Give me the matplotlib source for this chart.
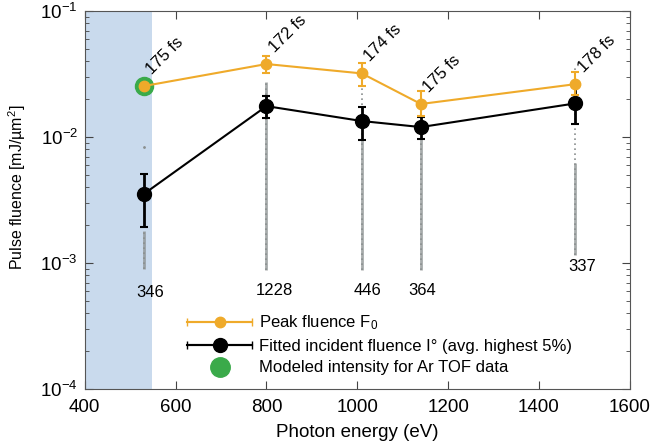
import numpy as np
from matplotlib import pyplot as plt
from matplotlib.container import ErrorbarContainer
from matplotlib.legend_handler import HandlerErrorbar

plt.rcParams['font.family'] = ['Liberation Sans', 'DejaVu Sans']
plt.rcParams['mathtext.fontset'] = 'custom'
plt.rcParams['mathtext.rm'] = 'Liberation Sans'
plt.rcParams['mathtext.it'] = 'Liberation Sans:italic'
plt.rcParams['mathtext.bf'] = 'Liberation Sans:bold'

# photon energies (eV)
energy    = [530, 800, 1010, 1140, 1480]

# peak fluence F0 with asymmetric error bars
peak      = [0.0254, 0.038, 0.032, 0.0183, 0.0263]
peak_lo   = [0.0254, 0.032, 0.0254, 0.0147, 0.0215]
peak_hi   = [0.0254, 0.044, 0.039, 0.0232, 0.033]

# fitted incident fluence
fit       = [0.00353, 0.0176, 0.0134, 0.0120, 0.0185]
fit_lo    = [0.00194, 0.0141, 0.0095, 0.0097, 0.0127]
fit_hi    = [0.0051, 0.0211, 0.0174, 0.0144, 0.025]

# modelled intensity for Ar TOF
tof_e     = [530]
tof_val   = [0.0254]

# single-shot strips (extent)
strip_sparse_top = [0.0018, 0.0274, 0.027, 0.0098, 0.037]
strip_dense_top  = [0.0018, 0.0274, 0.0095, 0.0098, 0.0062]
strip_bottom     = [0.00090, 0.00088, 0.00088, 0.00088, 0.00116]
outlier_e   = [530]
outlier_val = [0.0083]

pulse_len = ['175 fs', '172 fs', '174 fs', '175 fs', '178 fs']
shots     = ['346', '1228', '446', '364', '337']
shots_x   = [543, 817, 1023, 1142, 1495]
shots_y   = [5.8e-4, 6.1e-4, 6.1e-4, 6.1e-4, 9.3e-4]

orange = '#EFAA2A'
green  = '#3AAA4A'
gray   = '#8A8F8F'
shade  = '#C9DAED'


fig = plt.figure(figsize=(6.52, 4.44), dpi=100)
ax  = fig.add_axes([0.130, 0.124, 0.836, 0.851])

ax.axvspan(400, 547, color=shade, lw=0, zorder=0)

ax.vlines(energy, strip_bottom, strip_sparse_top, color=gray, lw=1.2, linestyles=(0, (1, 2)), zorder=1)
ax.vlines(energy, strip_bottom, strip_dense_top, color=gray, lw=2.0, alpha=0.75, zorder=1)
ax.plot(outlier_e, outlier_val, '.', color=gray, ms=2, zorder=1)

e = np.array(energy)
pk = np.array(peak); ft = np.array(fit)
ax.errorbar(e, ft, yerr=[ft-np.array(fit_lo), np.array(fit_hi)-ft], fmt='-o', color='k', ms=10,
            lw=1.5, elinewidth=2, capsize=3, capthick=1.5, zorder=3)
ax.plot(tof_e, tof_val, 'o', color=green, ms=13, zorder=4)
ax.errorbar(e, pk, yerr=[pk-np.array(peak_lo), np.array(peak_hi)-pk], fmt='-o', color=orange, ms=7.5,
            lw=1.5, elinewidth=1.5, capsize=3, capthick=1.5, zorder=5)

for x, y, s in zip(energy, peak, pulse_len):
    ax.annotate(s, (x, y), xytext=(7.5, 6.5), textcoords='offset points', rotation=45,
                rotation_mode='anchor', ha='left', va='bottom', fontsize=12)
for x, y, s in zip(shots_x, shots_y, shots):
    ax.text(x, y, s, ha='center', va='center', fontsize=12)

ax.set_yscale('log')
ax.set_xlim(400, 1600)
ax.set_ylim(1e-4, 1e-1)
ax.set_xticks(np.arange(400, 1601, 200))
ax.tick_params(which='both', direction='in', top=True, right=True, labelsize=13.5, color='#444444')
ax.tick_params(which='major', length=6)
ax.tick_params(which='minor', length=3)
ax.tick_params(axis='x', which='minor', top=False, bottom=False)
ax.tick_params(axis='x', pad=7)
ax.tick_params(axis='y', pad=5)
for sp in ax.spines.values():
    sp.set_color('#555555')
ax.set_xlabel('Photon energy (eV)', fontsize=13.5, labelpad=6)
ax.set_ylabel('Pulse fluence [mJ/µm$^2$]', fontsize=11.5)
ax.yaxis.set_label_coords(-0.105, 0.534)

# legend proxies with horizontal error bars
h1 = ax.errorbar([np.nan], [np.nan], xerr=[1], fmt='-o', color=orange, ms=7.5, lw=1.5, capsize=3)
h2 = ax.errorbar([np.nan], [np.nan], xerr=[1], fmt='-o', color='k', ms=10, lw=1.5, capsize=3)
h3, = ax.plot([np.nan], [np.nan], 'o', color=green, ms=14)
ax.legend([h1, h2, h3], ['Peak fluence F$_0$', 'Fitted incident fluence I° (avg. highest 5%)',
          'Modeled intensity for Ar TOF data'],
          handler_map={ErrorbarContainer: HandlerErrorbar(xerr_size=1.95, numpoints=1)},
          loc='upper left', bbox_to_anchor=(0.188, 0.20), frameon=False, fontsize=12,
          handlelength=3.9, handletextpad=0.4, labelspacing=0.4, borderaxespad=0, borderpad=0)

plt.savefig('out.png', dpi=100)
